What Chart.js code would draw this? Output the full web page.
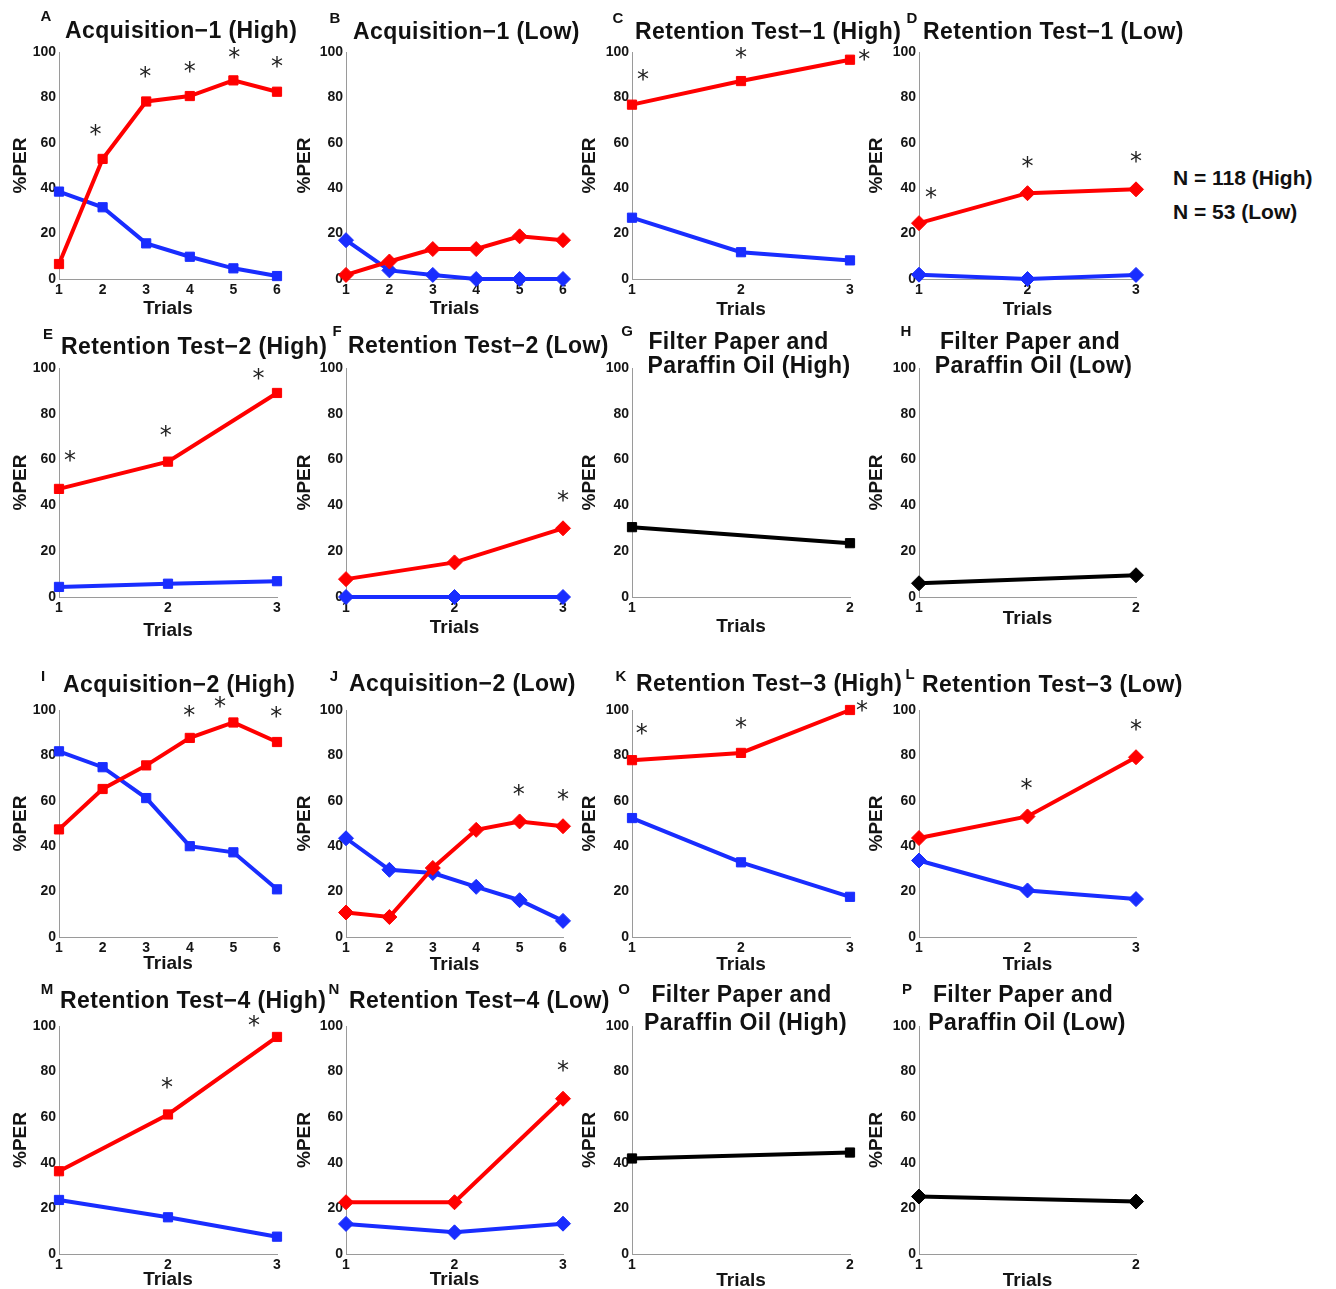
<!DOCTYPE html>
<html>
<head>
<meta charset="utf-8">
<script src="https://cdn.jsdelivr.net/npm/chart.js@4.4.1/dist/chart.umd.min.js"></script>
<style>
body { margin: 0; background: #fff; }
#stage { position: relative; width: 1336px; height: 1289px; overflow: hidden;
         font-family: "Liberation Sans", Arial, sans-serif; color: #111; }
#stage canvas { position: absolute; }
.title { position: absolute; font-weight: bold; font-size: 23px; letter-spacing: 0.4px;
         white-space: nowrap; line-height: 1; }
.letter { position: absolute; font-weight: bold; font-size: 15px; line-height: 1;
          transform: translate(-50%, -50%); }
.ntext { position: absolute; font-weight: bold; font-size: 21px; line-height: 1;
         white-space: nowrap; transform: translateY(-50%); }
</style>
</head>
<body>
<div id="stage"></div>
<script>
// trial numbers (x axis) and %PER ticks (y axis)
const trials6 = [1, 2, 3, 4, 5, 6];
const trials3 = [1, 2, 3];
const trials2 = [1, 2];
const perTicks = [0, 20, 40, 60, 80, 100];

// %PER per trial, red and blue groups
const acq1HighRed  = [6.6, 52.9, 78.2, 80.6, 87.5, 82.5];
const acq1HighBlue = [38.5, 31.6, 15.7, 9.8, 4.7, 1.3];
const acq1LowRed   = [1.8, 7.7, 13.2, 13.2, 18.8, 17.1];
const acq1LowBlue  = [17.1, 3.8, 1.8, 0, 0, 0];
const ret1HighRed  = [76.8, 87.2, 96.6];
const ret1HighBlue = [27.0, 11.8, 8.2];
const ret1LowRed   = [24.6, 37.8, 39.5];
const ret1LowBlue  = [1.9, 0, 1.8];
const ret2HighRed  = [47.2, 59.1, 89.1];
const ret2HighBlue = [4.4, 5.8, 6.9];
const ret2LowRed   = [7.8, 15.1, 30.0];
const ret2LowBlue  = [0, 0, 0];
const paper1High   = [30.5, 23.5];
const paper1Low    = [6.0, 9.5];
const acq2HighRed  = [47.4, 65.2, 75.6, 87.7, 94.5, 85.9];
const acq2HighBlue = [81.8, 74.8, 61.2, 40.0, 37.3, 21.0];
const acq2LowRed   = [10.8, 8.8, 30.4, 47.2, 50.9, 48.8];
const acq2LowBlue  = [43.5, 29.6, 28.2, 22.1, 16.2, 7.1];
const ret3HighRed  = [77.9, 81.1, 100];
const ret3HighBlue = [52.4, 32.9, 17.7];
const ret3LowRed   = [43.6, 53.1, 79.2];
const ret3LowBlue  = [33.7, 20.5, 16.7];
const ret4HighRed  = [36.3, 61.2, 95.2];
const ret4HighBlue = [23.7, 16.1, 7.6];
const ret4LowRed   = [22.7, 22.7, 68.1];
const ret4LowBlue  = [13.2, 9.5, 13.3];
const paper2High   = [41.9, 44.5];
const paper2Low    = [25.2, 23.0];

// significance asterisks: [trial, %PER]
const acq1HighStars = [[1.84, 65.6], [2.98, 91.4], [4.0, 93.6], [5.02, 99.6], [6.0, 95.6]];
const ret1HighStars = [[1.10, 90.0], [2.0, 99.6], [3.13, 98.8]];
const ret1LowStars  = [[1.11, 38.0], [2.0, 51.4], [3.0, 53.6]];
const ret2HighStars = [[1.10, 61.6], [1.98, 72.7], [2.83, 97.5]];
const ret2LowStars  = [[3.0, 44.2]];
const acq2HighStars = [[3.99, 99.6], [4.69, 103.7], [5.98, 99.3]];
const acq2LowStars  = [[4.98, 64.9], [6.0, 62.4]];
const ret3HighStars = [[1.09, 91.5], [2.0, 94.4], [3.11, 101.8]];
const ret3LowStars  = [[1.99, 67.2], [3.0, 93.4]];
const ret4HighStars = [[1.99, 75.1], [2.79, 102.3]];
const ret4LowStars  = [[3.0, 82.4]];

const RED = '#ff0000';
const BLUE = 'rgb(25,45,255)';
const BLACK = '#000000';
const TXT = '#151515';
const AXIS = '#9a9a9a';
const FONT = '"Liberation Sans", Arial, sans-serif';

// plot boxes in page pixels
const COLS = [{ L: 59, R: 277 }, { L: 346, R: 563 }, { L: 632, R: 850 }, { L: 919, R: 1136 }];
const ROWS = [{ T: 52, B: 279 }, { T: 368, B: 597 }, { T: 710, B: 937 }, { T: 1026, B: 1254 }];
const Y_TITLE_OFF = [38.6, 41, 42, 42.7];
const Y_AXIS_W = 56, X_AXIS_H = 48, PAD_T = 16, PAD_R = 24;

const panels = [
    { letter: 'A', lp: [46, 15], col: 0, row: 0, trials: trials6, marker: 'rect',
      series: [[acq1HighRed, RED], [acq1HighBlue, BLUE]], stars: acq1HighStars,
      title: [['Acquisition−1 (High)', 65, 29.5]], align: 'left', gap: 30 },
    { letter: 'B', lp: [335, 17], col: 1, row: 0, trials: trials6, marker: 'rectRot',
      series: [[acq1LowRed, RED], [acq1LowBlue, BLUE]], stars: [],
      title: [['Acquisition−1 (Low)', 353, 31]], align: 'left', gap: 30 },
    { letter: 'C', lp: [618, 17], col: 2, row: 0, trials: trials3, marker: 'rect',
      series: [[ret1HighRed, RED], [ret1HighBlue, BLUE]], stars: ret1HighStars,
      title: [['Retention Test−1 (High)', 635, 30.5]], align: 'left', gap: 31 },
    { letter: 'D', lp: [912, 17], col: 3, row: 0, trials: trials3, marker: 'rectRot',
      series: [[ret1LowRed, RED], [ret1LowBlue, BLUE]], stars: ret1LowStars,
      title: [['Retention Test−1 (Low)', 923, 31]], align: 'left', gap: 31 },

    { letter: 'E', lp: [48, 333], col: 0, row: 1, trials: trials3, marker: 'rect',
      series: [[ret2HighRed, RED], [ret2HighBlue, BLUE]], stars: ret2HighStars,
      title: [['Retention Test−2 (High)', 61, 346]], align: 'left', gap: 34 },
    { letter: 'F', lp: [337, 330], col: 1, row: 1, trials: trials3, marker: 'rectRot',
      series: [[ret2LowRed, RED], [ret2LowBlue, BLUE]], stars: ret2LowStars,
      title: [['Retention Test−2 (Low)', 348, 345]], align: 'left', gap: 31 },
    { letter: 'G', lp: [627, 330], col: 2, row: 1, trials: trials2, marker: 'rect',
      series: [[paper1High, BLACK]], stars: [],
      title: [['Filter Paper and', 738.5, 341], ['Paraffin Oil (High)', 749, 365]], align: 'center', gap: 30 },
    { letter: 'H', lp: [906, 330], col: 3, row: 1, trials: trials2, marker: 'rectRot',
      series: [[paper1Low, BLACK]], stars: [],
      title: [['Filter Paper and', 1030, 341], ['Paraffin Oil (Low)', 1033.5, 365]], align: 'center', gap: 22 },

    { letter: 'I', lp: [43, 675], col: 0, row: 2, trials: trials6, marker: 'rect',
      series: [[acq2HighRed, RED], [acq2HighBlue, BLUE]], stars: acq2HighStars,
      title: [['Acquisition−2 (High)', 63, 684]], align: 'left', gap: 27 },
    { letter: 'J', lp: [334, 675], col: 1, row: 2, trials: trials6, marker: 'rectRot',
      series: [[acq2LowRed, RED], [acq2LowBlue, BLUE]], stars: acq2LowStars,
      title: [['Acquisition−2 (Low)', 349, 683]], align: 'left', gap: 28 },
    { letter: 'K', lp: [621, 675], col: 2, row: 2, trials: trials3, marker: 'rect',
      series: [[ret3HighRed, RED], [ret3HighBlue, BLUE]], stars: ret3HighStars,
      title: [['Retention Test−3 (High)', 636, 683]], align: 'left', gap: 28 },
    { letter: 'L', lp: [910, 673], col: 3, row: 2, trials: trials3, marker: 'rectRot',
      series: [[ret3LowRed, RED], [ret3LowBlue, BLUE]], stars: ret3LowStars,
      title: [['Retention Test−3 (Low)', 922, 684]], align: 'left', gap: 28 },

    { letter: 'M', lp: [47, 988], col: 0, row: 3, trials: trials3, marker: 'rect',
      series: [[ret4HighRed, RED], [ret4HighBlue, BLUE]], stars: ret4HighStars,
      title: [['Retention Test−4 (High)', 60, 1000]], align: 'left', gap: 26 },
    { letter: 'N', lp: [334, 988], col: 1, row: 3, trials: trials3, marker: 'rectRot',
      series: [[ret4LowRed, RED], [ret4LowBlue, BLUE]], stars: ret4LowStars,
      title: [['Retention Test−4 (Low)', 349, 1000]], align: 'left', gap: 26 },
    { letter: 'O', lp: [624, 988], col: 2, row: 3, trials: trials2, marker: 'rect',
      series: [[paper2High, BLACK]], stars: [],
      title: [['Filter Paper and', 741.5, 994], ['Paraffin Oil (High)', 745.5, 1022]], align: 'center', gap: 27 },
    { letter: 'P', lp: [907, 988], col: 3, row: 3, trials: trials2, marker: 'rectRot',
      series: [[paper2Low, BLACK]], stars: [],
      title: [['Filter Paper and', 1023, 994], ['Paraffin Oil (Low)', 1027, 1022]], align: 'center', gap: 27 }
];

const stage = document.getElementById('stage');
Chart.defaults.font.family = FONT;

// asterisks drawn at data positions through the chart scales
function starPlugin(stars) {
    return {
        id: 'sigStars',
        afterDatasetsDraw(chart) {
            const { ctx, scales } = chart;
            ctx.save();
            ctx.font = '24px "DejaVu Sans", sans-serif';
            ctx.fillStyle = '#222';
            ctx.textAlign = 'center';
            ctx.textBaseline = 'alphabetic';
            const m = ctx.measureText('*');
            const shift = (m.actualBoundingBoxAscent - m.actualBoundingBoxDescent) / 2;
            stars.forEach(([sx, sy]) => {
                ctx.fillText('*', scales.x.getPixelForValue(sx), scales.y.getPixelForValue(sy) + shift);
            });
            ctx.restore();
        }
    };
}

function addText(cls, text, x, y, align) {
    const d = document.createElement('div');
    d.className = cls;
    d.textContent = text;
    d.style.left = x + 'px';
    d.style.top = y + 'px';
    if (cls === 'title') {
        d.style.transform = align === 'center' ? 'translate(-50%, -50%)' : 'translateY(-50%)';
    }
    stage.appendChild(d);
}

function buildPanel(p) {
    const col = COLS[p.col], row = ROWS[p.row];
    const w = col.R - col.L + Y_AXIS_W + PAD_R;
    const h = row.B - row.T + PAD_T + X_AXIS_H;
    const canvas = document.createElement('canvas');
    canvas.width = w;
    canvas.height = h;
    canvas.style.left = (col.L - Y_AXIS_W) + 'px';
    canvas.style.top = (row.T - PAD_T) + 'px';
    canvas.style.width = w + 'px';
    canvas.style.height = h + 'px';
    stage.appendChild(canvas);

    const tickFont = { family: FONT, size: 14, weight: 'bold' };
    const titleFont = { family: FONT, size: 19, weight: 'bold' };
    const half = 19 * 1.2 / 2;

    new Chart(canvas, {
        type: 'line',
        data: {
            datasets: p.series.map(([vals, color]) => ({
                data: vals.map((v, i) => ({ x: p.trials[i], y: v })),
                borderColor: color,
                backgroundColor: color,
                pointBackgroundColor: color,
                pointBorderColor: color,
                borderWidth: 4,
                pointStyle: p.marker,
                pointRadius: p.marker === 'rect' ? 6.5 : 7.5,
                pointBorderWidth: 1,
                tension: 0,
                clip: false
            }))
        },
        options: {
            responsive: false,
            animation: false,
            events: [],
            layout: { padding: { top: PAD_T, right: PAD_R, left: 0, bottom: 0 } },
            plugins: { legend: { display: false }, tooltip: { enabled: false } },
            scales: {
                x: {
                    type: 'linear',
                    min: p.trials[0],
                    max: p.trials[p.trials.length - 1],
                    afterBuildTicks: s => { s.ticks = p.trials.map(v => ({ value: v })); },
                    afterFit: s => { s.height = X_AXIS_H; },
                    grid: { display: false, drawTicks: false },
                    border: { display: true, color: AXIS, width: 1 },
                    ticks: { autoSkip: false, maxRotation: 0, padding: 3, color: TXT, font: tickFont },
                    title: {
                        display: true, text: 'Trials', color: TXT, font: titleFont,
                        padding: { top: 0, bottom: Math.max(0, X_AXIS_H - half - p.gap) }
                    }
                },
                y: {
                    min: 0,
                    max: 100,
                    afterBuildTicks: s => { s.ticks = perTicks.map(v => ({ value: v })); },
                    afterFit: s => { s.width = Y_AXIS_W; },
                    grid: { display: false, drawTicks: false },
                    border: { display: true, color: AXIS, width: 1 },
                    ticks: { padding: 3, color: TXT, font: tickFont },
                    title: {
                        display: true, text: '%PER', color: TXT, font: titleFont,
                        padding: { top: Math.max(0, Y_AXIS_W - Y_TITLE_OFF[p.col] - half), bottom: 0 }
                    }
                }
            }
        },
        plugins: [starPlugin(p.stars)]
    });

    p.title.forEach(([text, x, y]) => addText('title', text, x, y, p.align));
    addText('letter', p.letter, p.lp[0], p.lp[1]);
}

panels.forEach(buildPanel);

addText('ntext', 'N = 118 (High)', 1173, 177);
addText('ntext', 'N = 53 (Low)', 1173, 211);
</script>
</body>
</html>
